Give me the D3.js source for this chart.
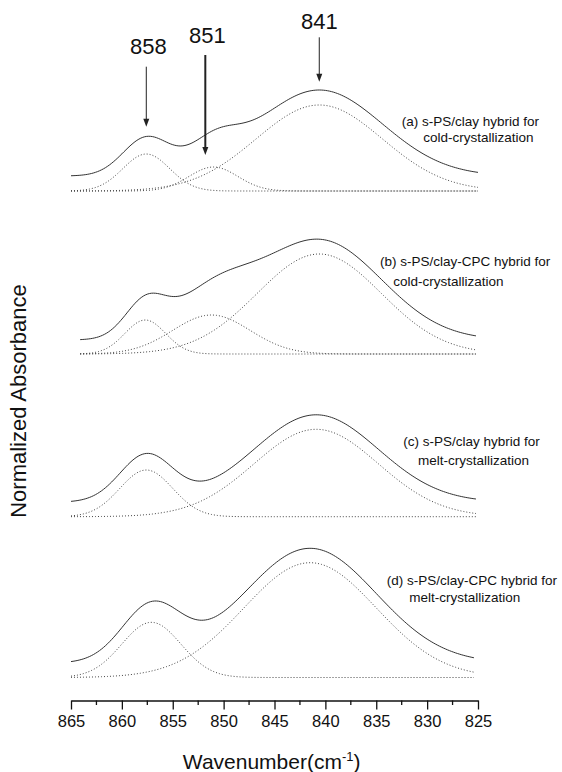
<!DOCTYPE html>
<html>
<head>
<meta charset="utf-8">
<script src="https://cdn.jsdelivr.net/npm/d3@7"></script>
<style>
  html, body { margin: 0; padding: 0; background: #fff; }
  svg { display: block; font-family: "Liberation Sans", Arial, sans-serif; }
</style>
</head>
<body>
<svg id="chart" width="562" height="772"></svg>
<script>
// Wavenumber axis (cm-1), reversed as usual for IR spectra
const wavenumberDomain = [865, 825];
const majorTicks = [865, 860, 855, 850, 845, 840, 835, 830, 825];
const minorTicks = [862.5, 857.5, 852.5, 847.5, 842.5, 837.5, 832.5, 827.5];

// Four samples, stacked from top to bottom
const sampleLine1 = ["(a) s-PS/clay hybrid for", "(b) s-PS/clay-CPC hybrid for",
                     "(c) s-PS/clay hybrid for", "(d) s-PS/clay-CPC hybrid for"];
const sampleLine2 = ["cold-crystallization", "cold-crystallization",
                     "melt-crystallization", "melt-crystallization"];

// Vertical stacking offset of each trace (normalized absorbance units)
const traceBaseline = [5.09, 3.46, 1.833, 0.225];
// Spacing between measured trace and fitted component bands
const traceLift = [0.15, 0.14, 0.145, 0.144];
// Wavenumber range recorded for each trace
const traceStart = [865, 864.1, 865, 865];
const traceEnd = [825, 825.2, 825.2, 825.4];

// Deconvoluted Gaussian bands: centre (cm-1), height, standard deviation (cm-1)
const bandCenter = [[857.6, 851.0, 840.6], [857.7, 851.2, 840.6], [857.6, 840.9], [857.1, 841.5]];
const bandHeight = [[0.37, 0.24, 0.86], [0.34, 0.39, 1.00], [0.467, 0.874], [0.552, 1.148]];
const bandSigma  = [[2.3, 2.4, 6.2], [2.0, 3.8, 6.1], [2.6, 6.1], [2.9, 6.5]];

// Band assignments marked above trace (a)
const markLabel = ["858", "851", "841"];
const markWavenumber = [857.6, 851.8, 840.6];
const markTop = [6.333, 6.45, 6.627];
const markTip = [5.733, 5.45, 6.183];

const svg = d3.select("#chart");
const x = d3.scaleLinear().domain(wavenumberDomain).range([71, 478]);
const y = d3.scaleLinear().domain([0, 7]).range([700, 0]);

function band(v, c, h, s) { return h * Math.exp(-((v - c) * (v - c)) / (2 * s * s)); }

const line = d3.line().x(d => x(d[0])).y(d => y(d[1])).curve(d3.curveLinear);

// Text placement of the sample captions (pixels)
const captionPos = [
  { x1: 401.7, y1: 121.7, x2: 423.3, y2: 137 },
  { x1: 380,   y1: 261,   x2: 393.3, y2: 281.7 },
  { x1: 403.3, y1: 441,   x2: 418,   y2: 460.7 },
  { x1: 386.7, y1: 580.5, x2: 409.3, y2: 597.5 }
];

traceBaseline.forEach((base, i) => {
  const vs = d3.range(traceStart[i], traceEnd[i] - 0.001, -0.2);
  vs.push(traceEnd[i]);
  const g = svg.append("g");

  // fitted component bands (dotted)
  bandCenter[i].forEach((c, k) => {
    const pts = vs.map(v => [v, base + band(v, c, bandHeight[i][k], bandSigma[i][k])]);
    g.append("path").attr("d", line(pts))
      .attr("fill", "none").attr("stroke", "#444").attr("stroke-width", 1)
      .attr("stroke-dasharray", "1,2");
  });

  // measured spectrum (solid)
  const total = vs.map(v => [v, base + traceLift[i] +
    d3.sum(bandCenter[i], (c, k) => band(v, c, bandHeight[i][k], bandSigma[i][k]))]);
  g.append("path").attr("d", line(total))
    .attr("fill", "none").attr("stroke", "#333").attr("stroke-width", 1);

  const p = captionPos[i];
  g.append("text").attr("x", p.x1).attr("y", p.y1).attr("dy", "0.35em")
    .attr("font-size", 13.5).attr("fill", "#111").text(sampleLine1[i]);
  g.append("text").attr("x", p.x2).attr("y", p.y2).attr("dy", "0.35em")
    .attr("font-size", 13.5).attr("fill", "#111").text(sampleLine2[i]);
});

// arrows marking the three bands
const markLabelY = [6.533, 6.65, 6.783];
const markWidth = [1, 2, 1];
markLabel.forEach((lab, j) => {
  const xv = x(markWavenumber[j]);
  const tip = y(markTip[j]);
  svg.append("line").attr("x1", xv).attr("x2", xv)
    .attr("y1", y(markTop[j])).attr("y2", tip - 5)
    .attr("stroke", "#222").attr("stroke-width", markWidth[j]);
  svg.append("path")
    .attr("d", `M${xv - 3},${tip - 8} L${xv + 3},${tip - 8} L${xv},${tip} Z`)
    .attr("fill", "#222");
  svg.append("text").attr("x", xv + (j === 2 ? 0 : 2)).attr("y", y(markLabelY[j]))
    .attr("dy", "0.35em").attr("text-anchor", "middle")
    .attr("font-size", 22).attr("fill", "#111").text(lab);
});

// x axis
const axis = svg.append("g").attr("transform", "translate(0,700.5)")
  .call(d3.axisBottom(x).tickValues(majorTicks).tickSize(9).tickSizeOuter(0)
    .tickPadding(6).tickFormat(d3.format("d")));
axis.select(".domain").attr("stroke", "#111").attr("stroke-width", 1.3);
axis.selectAll(".tick line").attr("stroke", "#111").attr("stroke-width", 1.3);
axis.selectAll(".tick text").attr("font-size", 16.5).attr("fill", "#111")
  .attr("font-family", "Liberation Sans, Arial, sans-serif");
axis.selectAll(".minor").data(minorTicks).enter().append("line")
  .attr("class", "minor").attr("x1", d => x(d)).attr("x2", d => x(d))
  .attr("y1", 0).attr("y2", 4.5).attr("stroke", "#111").attr("stroke-width", 1.3);

// axis titles
const xt = svg.append("text").attr("x", 271.7).attr("y", 769.3)
  .attr("text-anchor", "middle").attr("font-size", 21).attr("fill", "#111");
xt.append("tspan").text("Wavenumber(cm");
xt.append("tspan").attr("font-size", 13).attr("dy", -8).text("-1");
xt.append("tspan").attr("dy", 8).text(")");

svg.append("text").attr("transform", "translate(18,401) rotate(-90)")
  .attr("text-anchor", "middle").attr("dy", "0.35em")
  .attr("font-size", 22).attr("fill", "#111").text("Normalized Absorbance");
</script>
</body>
</html>
